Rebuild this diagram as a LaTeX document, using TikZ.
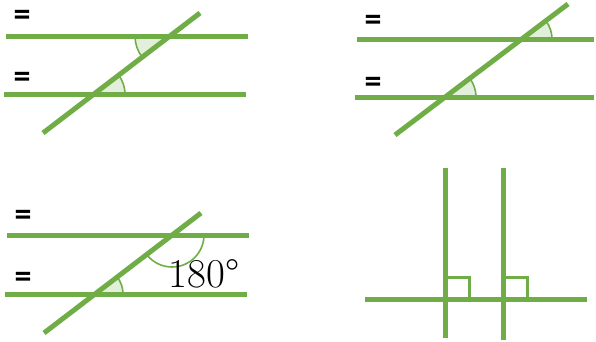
\documentclass[tikz,border=0pt]{standalone}
\usepackage{fontspec}
\usepackage{tikz}
\usetikzlibrary{calc}
\newfontfamily\eqfont{Carlito}
\definecolor{lineGreen}{RGB}{112,173,71}
\definecolor{fillGreen}{RGB}{226,239,218}

\begin{document}
\begin{tikzpicture}[x=1pt, y=1pt,
    parline/.style={lineGreen, line width=5pt},
    arcmark/.style={draw=lineGreen, line width=1.6pt},
    rightmark/.style={draw=lineGreen, line width=3pt},
    eqsign/.style={font=\eqfont\bfseries\fontsize{34}{36}\selectfont, inner sep=0pt},
    degree/.style={font=\fontsize{41}{44}\selectfont, inner sep=0pt}
  ]
  \useasboundingbox (0,0) rectangle (596,341);

  % panel 1: alternate angles
  \coordinate (a1) at (170,305);
  \coordinate (a2) at (94,247);
  \fill[fillGreen] (a1) -- ++(180:35) arc (180:217.4:35) -- cycle;
  \draw[arcmark] (a1) ++(180:35) arc (180:217.4:35);
  \fill[fillGreen] (a2) -- ++(0:31) arc (0:37.4:31) -- cycle;
  \draw[arcmark] (a2) ++(0:31) arc (0:37.4:31);
  \draw[parline] (6,305) -- (248,305);
  \draw[parline] (4,247) -- (246,247);
  \draw[parline] (43,208) -- (200,328);
  \node[eqsign] (e1) at (22,323) {=};
  \node[eqsign] (e2) at (22,261) {=};

  % panel 2: corresponding angles
  \coordinate (b1) at (522,302);
  \coordinate (b2) at (445,244);
  \fill[fillGreen] (b1) -- ++(0:30) arc (0:37.1:30) -- cycle;
  \draw[arcmark] (b1) ++(0:30) arc (0:37.1:30);
  \fill[fillGreen] (b2) -- ++(0:31) arc (0:37.1:31) -- cycle;
  \draw[arcmark] (b2) ++(0:31) arc (0:37.1:31);
  \draw[parline] (357,302) -- (594,302);
  \draw[parline] (355,244) -- (594,244);
  \draw[parline] (395,206) -- (568,337);
  \node[eqsign] (e3) at (373,318) {=};
  \node[eqsign] (e4) at (373,256) {=};

  % panel 3: co-interior angles
  \coordinate (c1) at (172,106);
  \coordinate (c2) at (95,47);
  \draw[arcmark] (c1) ++(0:32) arc (0:-142.6:32);
  \fill[fillGreen] (c2) -- ++(0:28) arc (0:37.4:28) -- cycle;
  \draw[arcmark] (c2) ++(0:28) arc (0:37.4:28);
  \draw[parline] (7,106) -- (249,106);
  \draw[parline] (5,47) -- (247,47);
  \draw[parline] (44,8) -- (201,128);
  \node[eqsign] (e5) at (23,123) {=};
  \node[eqsign] (e6) at (23,61) {=};
  \node[degree] (deg) at (204,67) {180\textdegree};

  % panel 4: perpendiculars
  \draw[rightmark] (445,42) rectangle (469,64);
  \draw[rightmark] (503,42) rectangle (527,64);
  \draw[parline] (365,42) -- (587,42);
  \draw[parline] (445,3) -- (445,173);
  \draw[parline] (503,1) -- (503,173);
\end{tikzpicture}
\end{document}
